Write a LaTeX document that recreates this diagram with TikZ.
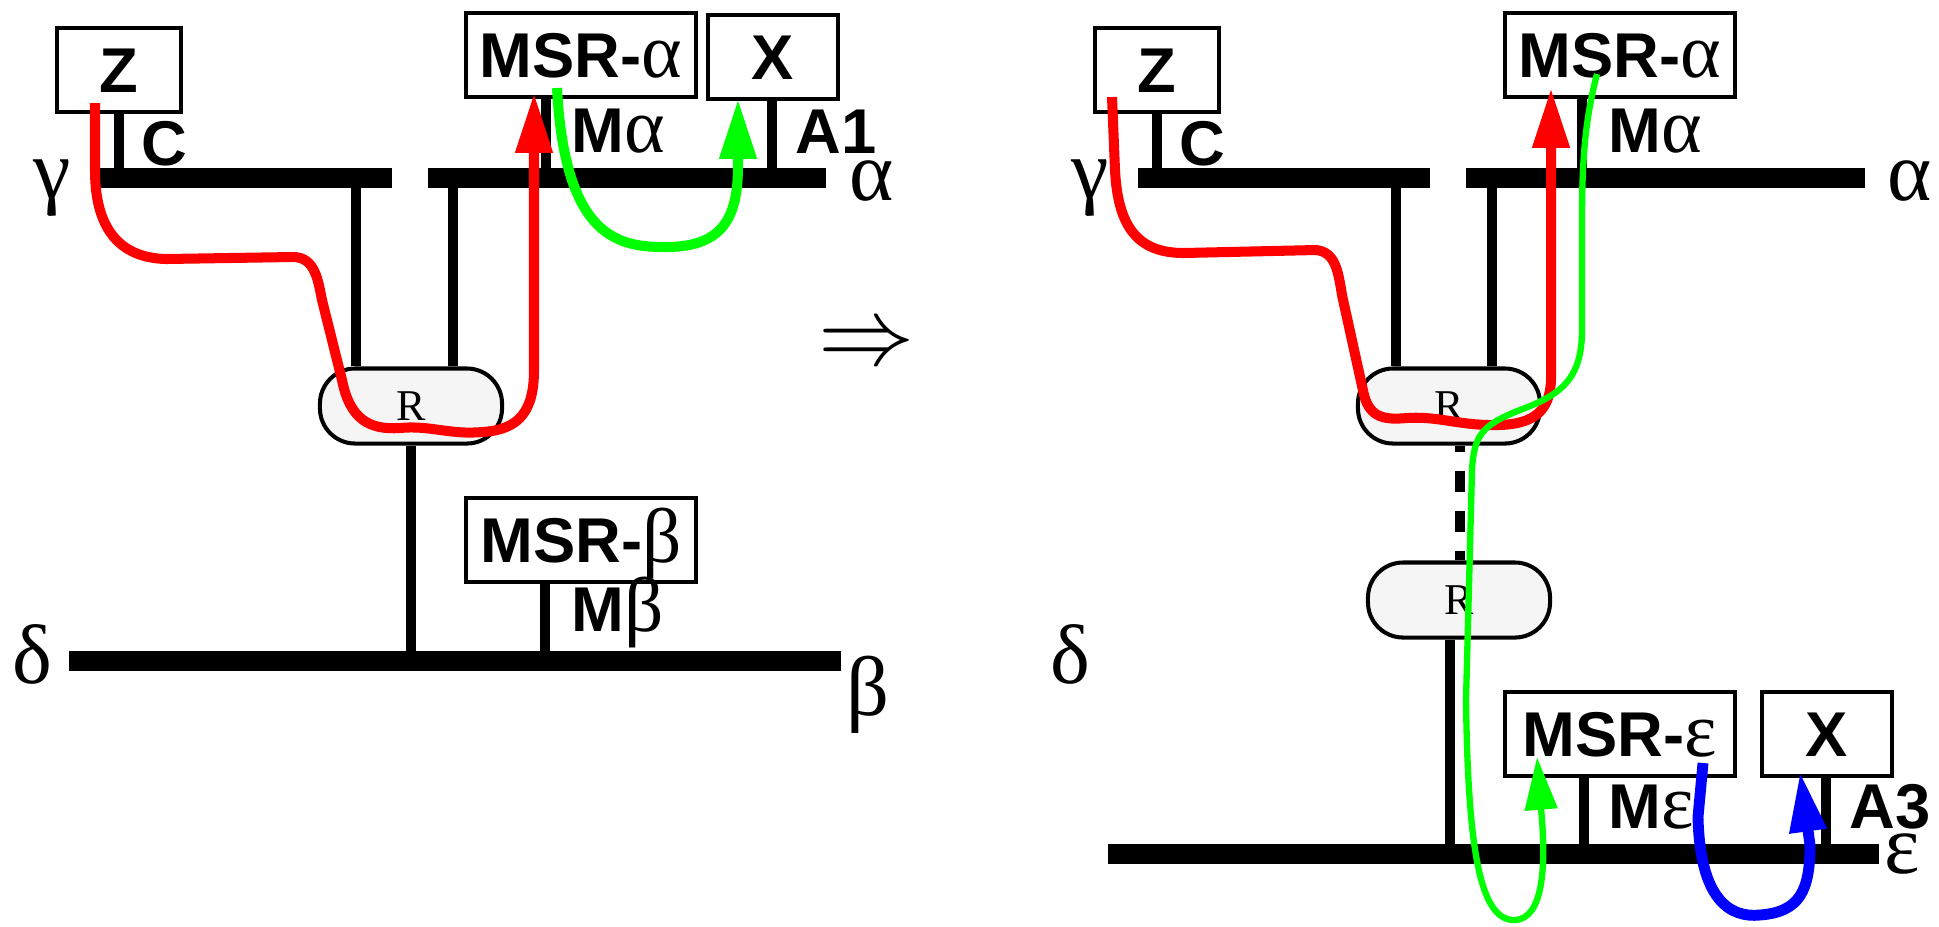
\documentclass[tikz,border=0pt]{standalone}
\usepackage{fontspec}
\setmainfont{Liberation Sans}
\newfontfamily\grkfont{Liberation Serif}
\usetikzlibrary{arrows.meta, positioning, calc}
\newcommand{\gk}[1]{{\grkfont\mdseries\fontsize{22}{22}\selectfont #1}}
\definecolor{rfill}{RGB}{245,245,245}
\tikzset{
  box/.style={draw, line width=1.15pt, fill=white, minimum width=2.3cm, minimum height=0.84cm, inner sep=0pt, font=\bfseries\fontsize{18}{20}\selectfont, text height=0.45cm, text depth=0pt},
  router/.style={draw, line width=1.15pt, rounded corners=10pt, fill=rfill, minimum width=1.82cm, minimum height=0.75cm, inner sep=0pt, font=\grkfont\fontsize{12.5}{12.5}\selectfont},
  bus/.style={line width=5.7pt},
  stub/.style={line width=2.6pt},
  lbl/.style={anchor=base west, inner sep=0pt, font=\bfseries\fontsize{18}{20}\selectfont},
  netname/.style={anchor=base, inner sep=0pt, font=\grkfont\fontsize{24}{24}\selectfont},
  flow/.style={line width=2.85pt, -{Triangle[length=17pt, width=10pt]}},
  thinflow/.style={line width=1.8pt, -{Triangle[length=15pt, width=9pt]}},
}
\begin{document}
\begin{tikzpicture}[x=0.01cm, y=-0.01cm]
  \useasboundingbox (0,0) rectangle (1939,926);

  \node[box, minimum width=1.24cm] (zL) at (119,70) {Z};
  \node[box] (msraL) at (581,55) {MSR-\gk{α}};
  \node[box, minimum width=1.3cm] (xL) at (773,57) {X};
  \node[router] (rL) at (411,406) {R};
  \node[box] (msrbL) at (581,540) {MSR-\gk{β}};

  \coordinate (gamS) at (98,178);  \coordinate (gamE) at (392,178);
  \coordinate (alS) at (428,178);  \coordinate (alE) at (826,178);
  \coordinate (deS) at (69,661);   \coordinate (beE) at (841,661);
  \coordinate (cL) at (119,178);
  \coordinate (maL) at (546,178);
  \coordinate (a1L) at (772,178);
  \coordinate (rgL) at (356,178);
  \coordinate (raL) at (453,178);
  \coordinate (rdL) at (411,661);
  \coordinate (mbL) at (545,661);

  \draw[stub] (zL.south) -- (cL);
  \draw[stub] (maL |- msraL.south) -- (maL);
  \draw[stub] (a1L |- xL.south) -- (a1L);
  \draw[stub] (rgL) -- (rgL |- rL.north);
  \draw[stub] (raL) -- (raL |- rL.north);
  \draw[stub] (rL.south) -- (rdL);
  \draw[stub] (mbL |- msrbL.south) -- (mbL);
  \draw[bus] (gamS) -- (gamE);
  \draw[bus] (alS) -- (alE);
  \draw[bus] (deS) -- (beE);

  \node[netname] (gamL) at (52,198) {γ};
  \node[netname] (alL) at (872,200) {α};
  \node[netname] (deL) at (32,683) {δ};
  \node[netname] (beL) at (868,715) {β};
  \node[lbl] (cLbl) at (141,165) {C};
  \node[lbl] (maLbl) at (571,152) {M\gk{α}};
  \node[lbl] (a1Lbl) at (795,153) {A1};
  \node[lbl] (mbLbl) at (571,631) {M\gk{β}};

  \coordinate (redLs) at (95,103);
  \coordinate (redLe) at (534,93);
  \draw[flow, red] (redLs) -- (95,170) .. controls (95,235) and (125,258) .. (166,259) -- (293,257) .. controls (315,257) and (318,280) .. (322,300) -- (342,380) .. controls (350,420) and (370,430) .. (400,428) .. controls (430,425) and (450,435) .. (482,432) .. controls (520,430) and (534,410) .. (534,370) -- (redLe);
  \coordinate (grnLs) at (557,88);
  \coordinate (grnLe) at (738,99);
  \draw[flow, green] (grnLs) .. controls (565,240) and (620,247) .. (666,247) .. controls (725,247) and (738,215) .. (738,165) -- (grnLe);

  \node[font=\Huge] (then) at (867,347) {\scalebox{1.1}{$\Rightarrow$}};

  \node[box, minimum width=1.24cm] (zR) at (1157,70) {Z};
  \node[box] (msraR) at (1620,55) {MSR-\gk{α}};
  \node[router] (rR1) at (1449,406) {R};
  \node[router] (rR2) at (1459,600) {R};
  \node[box] (msreR) at (1620,734) {MSR-\gk{ε}};
  \node[box, minimum width=1.3cm] (xR) at (1827,734) {X};

  \coordinate (gamS2) at (1138,178); \coordinate (gamE2) at (1430,178);
  \coordinate (alS2) at (1466,178);  \coordinate (alE2) at (1865,178);
  \coordinate (deS2) at (1108,854);  \coordinate (epE2) at (1879,854);
  \coordinate (cR) at (1157,178);
  \coordinate (maR) at (1582,178);
  \coordinate (rgR) at (1396,178);
  \coordinate (raR) at (1492,178);
  \coordinate (dash) at (1460,0);
  \coordinate (reR) at (1450,854);
  \coordinate (meR) at (1584,854);
  \coordinate (a3R) at (1826,854);

  \draw[stub] (zR.south) -- (cR);
  \draw[stub] (maR |- msraR.south) -- (maR);
  \draw[stub] (rgR) -- (rgR |- rR1.north);
  \draw[stub] (raR) -- (raR |- rR1.north);
  \draw[stub, dash pattern=on 6pt off 5.4pt, dash phase=4.3pt] (dash |- rR1.south) -- (dash |- rR2.north);
  \draw[stub] (reR |- rR2.south) -- (reR);
  \draw[stub] (meR |- msreR.south) -- (meR);
  \draw[stub] (a3R |- xR.south) -- (a3R);
  \draw[bus] (gamS2) -- (gamE2);
  \draw[bus] (alS2) -- (alE2);
  \draw[bus] (deS2) -- (epE2);

  \node[netname] (gamR) at (1090,198) {γ};
  \node[netname] (alR) at (1910,200) {α};
  \node[netname] (deR) at (1070,683) {δ};
  \node[netname] (epR) at (1902,873) {ε};
  \node[lbl] (cRLbl) at (1179,165) {C};
  \node[lbl] (maRLbl) at (1608,152) {M\gk{α}};
  \node[lbl] (meRLbl) at (1608,828) {M\gk{ε}};
  \node[lbl] (a3RLbl) at (1849,828) {A3};

  \coordinate (redRs) at (1112,97);
  \coordinate (redRe) at (1551,88);
  \draw[flow, red] (redRs) -- (1115,170) .. controls (1118,230) and (1140,253) .. (1184,253) -- (1316,250) .. controls (1335,252) and (1338,270) .. (1342,295) -- (1364,395) .. controls (1370,418) and (1385,420) .. (1407,418) .. controls (1440,416) and (1460,426) .. (1499,425) .. controls (1535,424) and (1550,410) .. (1551,380) -- (redRe);
  \coordinate (grnRs) at (1597,74);
  \coordinate (grnRe) at (1537,757);
  \draw[thinflow, green] (grnRs) .. controls (1585,120) and (1582,160) .. (1582,220) -- (1582,330) .. controls (1582,380) and (1560,395) .. (1520,410) .. controls (1482,425) and (1474,435) .. (1472,470) -- (1466,700) .. controls (1468,850) and (1480,920) .. (1514,920) .. controls (1545,920) and (1545,860) .. (1542,820) -- (grnRe);
  \coordinate (bluS) at (1703,763);
  \coordinate (bluE) at (1800,772);
  \draw[flow, blue, line width=3.1pt] (bluS) -- (1698,817) .. controls (1700,900) and (1730,918) .. (1760,915) .. controls (1800,912) and (1810,890) .. (1810,845) -- (bluE);
\end{tikzpicture}
\end{document}
